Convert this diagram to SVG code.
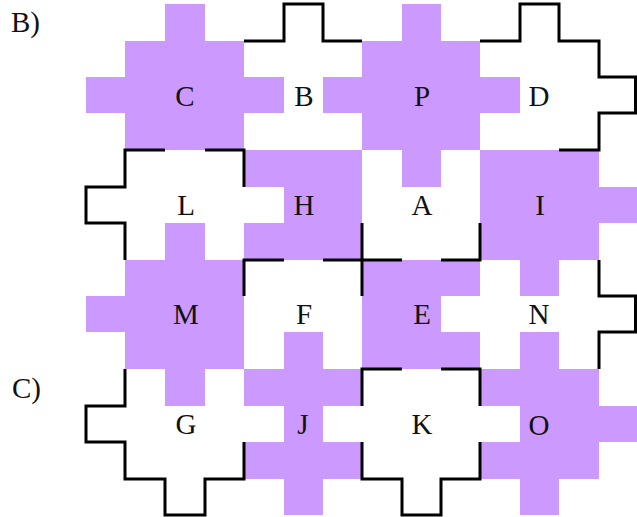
<svg xmlns="http://www.w3.org/2000/svg" width="637" height="517" viewBox="0 0 637 517">
<style>
.pp{fill:#CC99FF;stroke:none}
.ol{fill:none;stroke:#000;stroke-width:3;stroke-linejoin:miter;stroke-linecap:butt}
text{font-family:"Liberation Serif","Times New Roman",serif;font-size:29px;fill:#111;text-anchor:middle}
.lab{text-anchor:start}
</style>
<rect width="637" height="517" fill="#fff"/>
<text class="lab" x="11" y="32">B)</text>
<text class="lab" x="12" y="398">C)</text>
<g id="C"><path class="pp" d="M125,41H165V4H205V41H244V77H284V113H244V150H125V113H86V77H125Z"/><text x="185" y="106">C</text></g>
<g id="P"><path class="pp" d="M362,41H402V4H441V41H480V77H520V113H480V150H441V187H402V150H362V113H323V77H362Z"/><text x="422" y="106">P</text></g>
<g id="H"><path class="pp" d="M244,150H362V260H244V223H284V187H244Z"/><text x="304" y="215">H</text></g>
<g id="I"><path class="pp" d="M480,150H599V187H637V223H599V260H559V296H520V260H480Z"/><text x="540" y="215">I</text></g>
<g id="M"><path class="pp" d="M125,260H165V223H205V260H244V369H205V406H165V369H125V332H86V296H125Z"/><text x="186" y="324">M</text></g>
<g id="E"><path class="pp" d="M362,260H480V296H441V332H480V369H362Z"/><text x="422" y="324">E</text></g>
<g id="J"><path class="pp" d="M244,369H284V332H323V369H362V406H323V442H362V479H323V515H284V479H244V442H284V406H244Z"/><text x="303" y="434">J</text></g>
<g id="O"><path class="pp" d="M480,369H520V332H559V369H599V406H637V442H599V479H559V515H520V479H480V442H520V406H480Z"/><text x="539" y="435">O</text></g>
<g id="B"><text x="304" y="106">B</text></g>
<g id="D"><text x="539" y="106">D</text></g>
<g id="L"><text x="186" y="215">L</text></g>
<g id="A"><text x="422" y="215">A</text></g>
<g id="F"><text x="304" y="324">F</text></g>
<g id="N"><text x="539" y="324">N</text></g>
<g id="G"><text x="186" y="434">G</text></g>
<g id="K"><text x="422" y="434">K</text></g>
<g id="outlines">
<polyline class="ol" points="244,41 284,41 284,4 323,4 323,41 362,41"/>
<polyline class="ol" points="480,41 520,41 520,4 559,4 559,41 599,41 599,77 635.5,77 635.5,113 599,113 599,150 559,150"/>
<polyline class="ol" points="165,150 125,150 125,187 86,187 86,223 125,223 125,260"/>
<polyline class="ol" points="205,150 244,150 244,187"/>
<polyline class="ol" points="362,223 362,260 402,260"/>
<polyline class="ol" points="441,260 480,260 480,223"/>
<polyline class="ol" points="244,296 244,260 284,260"/>
<polyline class="ol" points="323,260 362,260 362,296"/>
<polyline class="ol" points="599,260 599,296 635.5,296 635.5,332 599,332 599,369"/>
<polyline class="ol" points="125,369 125,406 86,406 86,442 125,442 125,479 165,479 165,515 205,515 205,479 244,479 244,442"/>
<polyline class="ol" points="362,406 362,369 402,369"/>
<polyline class="ol" points="441,369 480,369 480,406"/>
<polyline class="ol" points="362,442 362,479 402,479 402,515 441,515 441,479 480,479 480,442"/>
</g>
</svg>
